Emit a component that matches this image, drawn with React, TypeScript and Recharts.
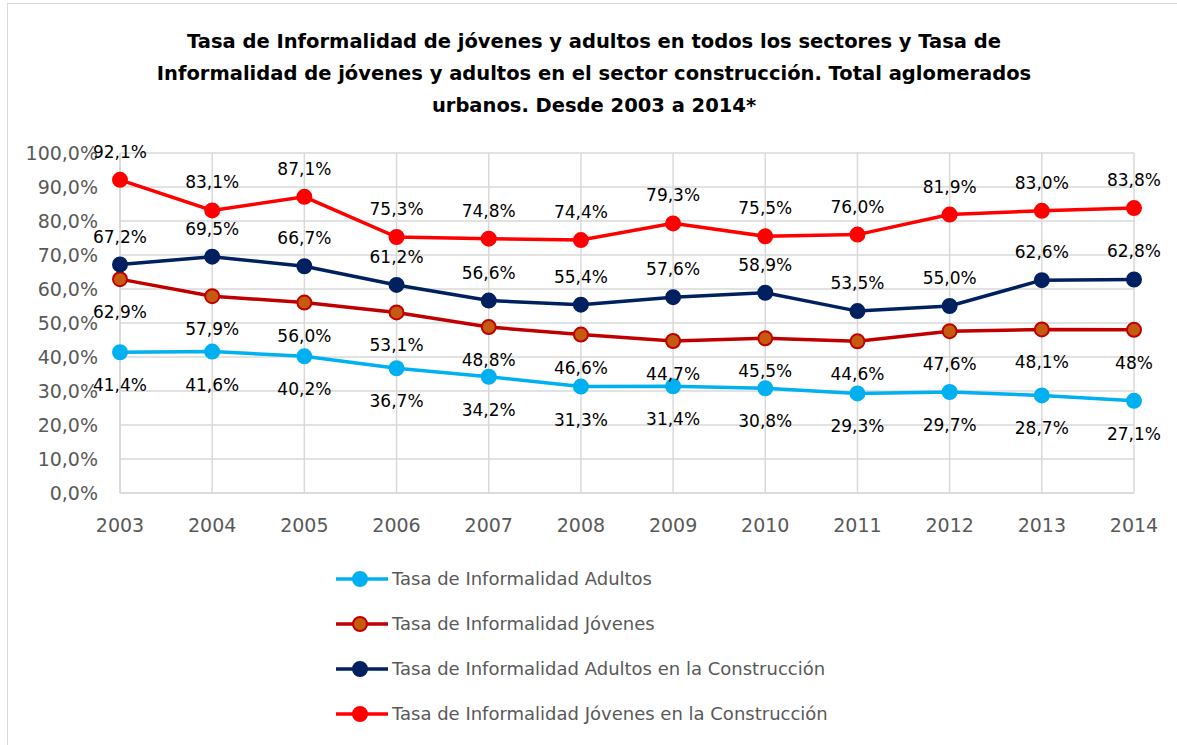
import React from "react";
import {
  LineChart,
  Line,
  XAxis,
  YAxis,
  CartesianGrid,
  LabelList,
} from "recharts";

const years = ["2003", "2004", "2005", "2006", "2007", "2008", "2009", "2010", "2011", "2012", "2013", "2014"];

const adultos = [41.4, 41.6, 40.2, 36.7, 34.2, 31.3, 31.4, 30.8, 29.3, 29.7, 28.7, 27.1];
const jovenes = [62.9, 57.9, 56.0, 53.1, 48.8, 46.6, 44.7, 45.5, 44.6, 47.6, 48.1, 48];
const adultosConst = [67.2, 69.5, 66.7, 61.2, 56.6, 55.4, 57.6, 58.9, 53.5, 55.0, 62.6, 62.8];
const jovenesConst = [92.1, 83.1, 87.1, 75.3, 74.8, 74.4, 79.3, 75.5, 76.0, 81.9, 83.0, 83.8];

// the 2014 youth label is printed without decimals in the source
const jovenesLabels = ["62,9%", "57,9%", "56,0%", "53,1%", "48,8%", "46,6%", "44,7%", "45,5%", "44,6%", "47,6%", "48,1%", "48%"];

const yTicks = [0, 10, 20, 30, 40, 50, 60, 70, 80, 90, 100];

const titleLines = [
  "Tasa de Informalidad de jóvenes y adultos en todos los sectores y Tasa de",
  "Informalidad de jóvenes y adultos en el sector construcción. Total aglomerados",
  "urbanos. Desde 2003 a 2014*",
];

const series = [
  { key: "adultos", name: "Tasa de Informalidad Adultos", stroke: "#00B0F0", fill: "#00B0F0", above: false },
  { key: "jovenes", name: "Tasa de Informalidad Jóvenes", stroke: "#C00000", fill: "#C55A11", above: false },
  { key: "adultosConst", name: "Tasa de Informalidad Adultos en la Construcción", stroke: "#002060", fill: "#002060", above: true },
  { key: "jovenesConst", name: "Tasa de Informalidad Jóvenes en la Construcción", stroke: "#FF0000", fill: "#FF0000", above: true },
];

const data = years.map((year, i) => ({
  year,
  adultos: adultos[i],
  jovenes: jovenes[i],
  adultosConst: adultosConst[i],
  jovenesConst: jovenesConst[i],
}));

const FONT = "'DejaVu Sans', sans-serif";

const pct = (v: number) => v.toFixed(1).replace(".", ",") + "%";

function makeLabel(above: boolean, texts?: string[]) {
  return (props: any) => {
    const { x, y, value, index } = props;
    const txt = texts ? texts[index] : pct(Number(value));
    return (
      <text
        x={x}
        y={above ? y - 28 : y + 33}
        textAnchor="middle"
        dominantBaseline="central"
        fontSize={17}
        fontFamily={FONT}
        fill="#000"
      >
        {txt}
      </text>
    );
  };
}

export default function App() {
  return (
    <div style={{ position: "relative", width: 1177, height: 745, overflow: "hidden", background: "#fff" }}>
      <style>{"body{margin:0}"}</style>
      <div
        style={{
          position: "absolute",
          left: 7,
          top: 3,
          width: 1200,
          height: 800,
          border: "1px solid #D9D9D9",
        }}
      />
      <div
        style={{
          position: "absolute",
          left: 0,
          top: 26,
          width: 1188,
          textAlign: "center",
          fontFamily: FONT,
          fontWeight: "bold",
          fontSize: 19.5,
          lineHeight: "32px",
          color: "#000",
        }}
      >
        {titleLines.map((l) => (
          <div key={l}>{l}</div>
        ))}
      </div>
      <div style={{ position: "absolute", left: 0, top: 0 }}>
        <LineChart
          width={1177}
          height={745}
          data={data}
          margin={{ top: 153, right: 43, left: 0, bottom: 212 }}
        >
          <CartesianGrid stroke="#D9D9D9" strokeWidth={1.5} />
          <XAxis
            dataKey="year"
            height={40}
            axisLine={{ stroke: "#D9D9D9", strokeWidth: 1.5 }}
            tickLine={false}
            tickMargin={20}
            tick={{ fontSize: 19, fontFamily: FONT, fill: "#595959" }}
          />
          <YAxis
            width={120}
            domain={[0, 100]}
            ticks={yTicks}
            tickFormatter={pct}
            axisLine={{ stroke: "#D9D9D9", strokeWidth: 1.5 }}
            tickLine={false}
            tickMargin={16}
            tick={{ fontSize: 19, fontFamily: FONT, fill: "#595959" }}
          />
          {series.map((s) => (
            <Line
              key={s.key}
              dataKey={s.key}
              name={s.name}
              type="linear"
              stroke={s.stroke}
              strokeWidth={3.5}
              dot={{ r: 7, fill: s.fill, stroke: s.stroke, strokeWidth: 2 }}
              activeDot={false}
              isAnimationActive={false}
            >
              <LabelList
                dataKey={s.key}
                content={makeLabel(s.above, s.key === "jovenes" ? jovenesLabels : undefined)}
              />
            </Line>
          ))}
        </LineChart>
      </div>
      <div style={{ position: "absolute", left: 336, top: 556, fontFamily: FONT, fontSize: 18, color: "#595959" }}>
        {series.map((s) => (
          <div key={s.key} style={{ display: "flex", alignItems: "center", height: 45 }}>
            <svg width={56} height={20} style={{ flex: "none" }}>
              <line x1={0} y1={10} x2={52} y2={10} stroke={s.stroke} strokeWidth={3.5} />
              <circle cx={24} cy={10} r={7} fill={s.fill} stroke={s.stroke} strokeWidth={2} />
            </svg>
            <span>{s.name}</span>
          </div>
        ))}
      </div>
    </div>
  );
}
